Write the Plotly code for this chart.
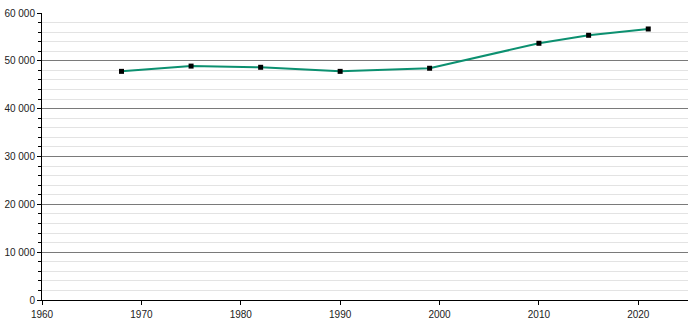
import plotly.graph_objects as go

years = [1968, 1975, 1982, 1990, 1999, 2010, 2015, 2021]
population = [47800, 48900, 48650, 47800, 48450, 53670, 55340, 56660]

fig = go.Figure()
fig.add_trace(go.Scatter(
    x=years, y=population, mode="lines+markers",
    line=dict(color="#0c9070", width=2),
    marker=dict(symbol="square", size=5, color="black"),
    hoverinfo="skip",
))

fig.update_layout(
    width=700, height=320,
    margin=dict(l=42, r=12, t=13, b=20),
    paper_bgcolor="white", plot_bgcolor="white",
    showlegend=False,
    separators=". ",
    font=dict(family="Liberation Sans, Arial, sans-serif", size=10, color="#222"),
)
fig.update_xaxes(
    range=[1960, 2025], dtick=10, tick0=1960,
    showgrid=False, zeroline=False, automargin=False,
    showline=True, linecolor="black", linewidth=1,
    ticks="outside", ticklen=4, tickcolor="black",
    ticklabelstandoff=1,
)
fig.update_yaxes(
    range=[0, 60000], dtick=10000, tickformat=",d",
    showgrid=True, gridcolor="#7a7a7a", gridwidth=1,
    zeroline=False, automargin=False,
    showline=True, linecolor="black", linewidth=1,
    ticks="outside", ticklen=4, tickcolor="black",
    minor=dict(dtick=2000, showgrid=True, gridcolor="#e3e3e3", gridwidth=1,
               ticks="outside", ticklen=3, tickcolor="black"),
)
fig.write_html("out.html")
